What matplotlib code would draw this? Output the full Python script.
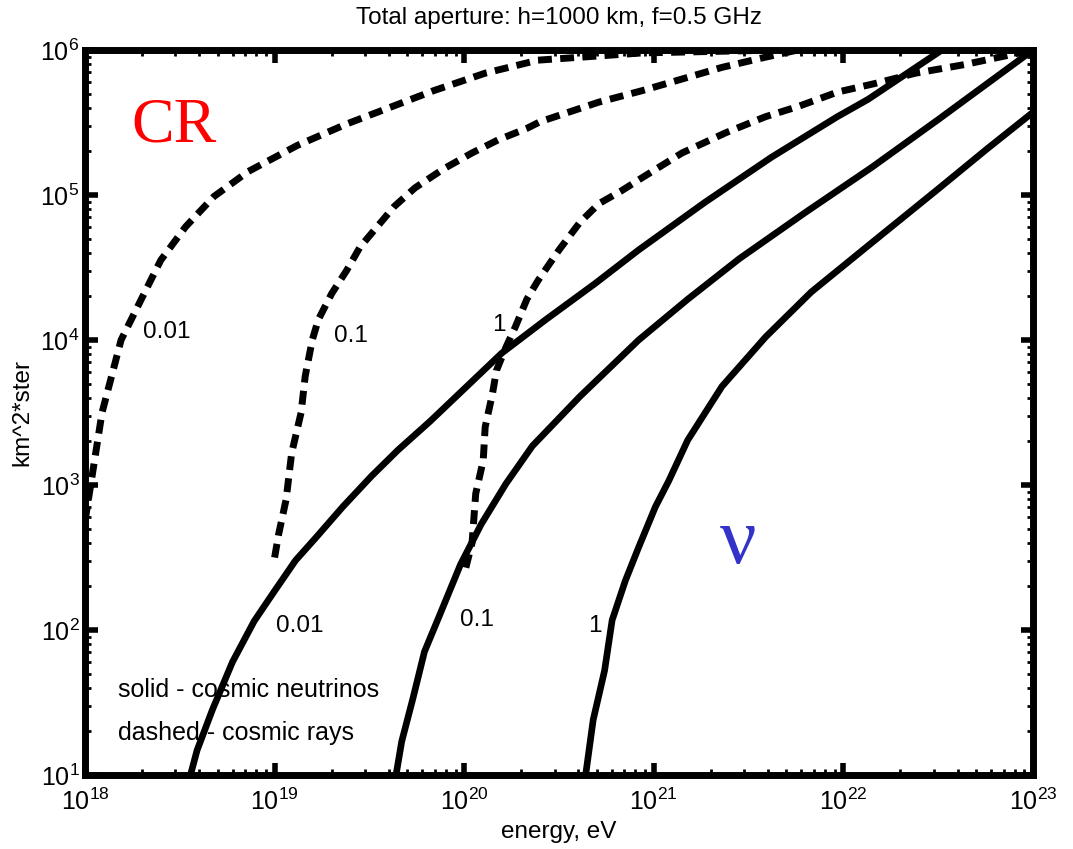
import matplotlib
matplotlib.use('Agg')
import matplotlib.pyplot as plt
import matplotlib as mpl
import numpy as np
from matplotlib.ticker import LogLocator

mpl.rcParams['font.family'] = 'Liberation Sans'
mpl.rcParams['mathtext.fontset'] = 'custom'
mpl.rcParams['mathtext.rm'] = 'Liberation Sans'
mpl.rcParams['mathtext.it'] = 'Liberation Sans:italic'

# ---- data (energy in eV, aperture in km^2*ster) ----
# cosmic neutrinos (solid), labels 0.01 / 0.1 / 1
nu_001_E = [3.6e18, 3.9e18, 4.7e18, 6.0e18, 7.8e18, 1.0e19, 1.29e19, 1.66e19, 2.29e19,
            3.24e19, 4.47e19, 6.61e19, 1.58e20, 2.69e20, 4.9e20, 8.3e20,
            1.86e21, 4.17e21, 9.3e21, 1.35e22, 3.31e22]
nu_001_A = [10, 14.8, 28.2, 60.3, 115, 186, 302, 437, 708, 1150, 1740, 2750,
            8130, 1.38e4, 2.45e4, 4.17e4, 8.9e4, 1.82e5, 3.47e5, 4.57e5, 1.0e6]

nu_01_E = [4.37e19, 4.68e19, 5.37e19, 6.17e19, 7.41e19, 9.55e19, 1.23e20, 1.66e20,
           2.29e20, 4.07e20, 8.32e20, 1.51e21, 2.82e21, 6.31e21, 1.41e22, 3.16e22, 1.0e23]
nu_01_A = [10, 17.0, 33.9, 70.8, 126, 282, 537, 1020, 1860, 4070, 1.0e4, 1.91e4,
           3.63e4, 7.59e4, 1.55e5, 3.31e5, 1.0e6]

nu_1_E = [4.37e20, 4.79e20, 5.5e20, 6.03e20, 7.08e20, 8.32e20, 1.02e21, 1.2e21,
          1.51e21, 2.29e21, 3.89e21, 6.76e21, 1.41e22, 3.16e22, 5.75e22, 1.0e23]
nu_1_A = [10, 24.0, 52.5, 117, 219, 372, 708, 1070, 2040, 4790, 1.05e4, 2.14e4,
          4.68e4, 1.1e5, 2.09e5, 3.72e5]

# cosmic rays (dashed), labels 0.01 / 0.1 / 1
cr_001_E = [1.0e18, 1.23e18, 1.55e18, 2.14e18, 2.51e18, 3.39e18, 4.79e18, 7.24e18,
            1.32e19, 2.4e19, 3.63e19, 6.92e19, 1.29e20, 2.45e20, 8.71e20, 4.68e21]
cr_001_A = [562, 3160, 1.0e4, 2.34e4, 3.55e4, 6.03e4, 9.77e4, 1.45e5, 2.2e5, 3.09e5,
            3.8e5, 5.25e5, 6.92e5, 8.51e5, 9.55e5, 1.0e6]

cr_01_E = [1.0e19, 1.05e19, 1.15e19, 1.23e19, 1.38e19, 1.45e19, 1.58e19, 1.7e19,
           2.0e19, 2.4e19, 2.82e19, 3.47e19, 4.27e19, 5.5e19, 7.76e19, 1.1e20,
           1.51e20, 2.14e20, 2.51e20, 5.13e20, 8.71e20, 1.41e21, 2.29e21, 3.72e21, 5.75e21]
cr_01_A = [316, 457, 794, 1660, 3160, 5620, 1.0e4, 1.38e4, 2.09e4, 3.02e4, 4.37e4,
           6.03e4, 8.32e4, 1.12e5, 1.51e5, 1.95e5, 2.4e5, 2.88e5, 3.2e5, 4.37e5,
           5.25e5, 6.31e5, 7.59e5, 8.81e5, 1.0e6]

cr_1_E = [1.02e20, 1.1e20, 1.15e20, 1.26e20, 1.29e20, 1.41e20, 1.48e20, 1.66e20,
          1.86e20, 2.14e20, 2.45e20, 3.16e20, 4.07e20, 5.13e20, 6.76e20, 8.71e20,
          1.41e21, 2.4e21, 3.89e21, 5.75e21, 9.33e21, 1.48e22, 2.4e22, 4.37e22, 1.0e23]
cr_1_A = [269, 398, 871, 1480, 2510, 4270, 6170, 8910, 1.23e4, 1.91e4, 2.57e4, 4.17e4,
          6.46e4, 8.71e4, 1.07e5, 1.32e5, 1.95e5, 2.69e5, 3.47e5, 4.07e5, 5.13e5,
          5.89e5, 6.92e5, 7.94e5, 1.0e6]

# curve labels: (text, energy, aperture)
cr_labels = [('0.01', 2.7e18, 1.14e4), ('0.1', 2.54e19, 1.07e4), ('1', 1.53e20, 1.26e4)]
nu_labels = [('0.01', 1.35e19, 107), ('0.1', 1.17e20, 117), ('1', 4.9e20, 107)]

# ---- figure ----
fig = plt.figure(figsize=(10.73, 8.49), dpi=100)
ax = fig.add_axes([85 / 1073, 1 - 775 / 849, 948 / 1073, 725 / 849])

# solid - neutrinos
for E, A in [(nu_001_E, nu_001_A), (nu_01_E, nu_01_A), (nu_1_E, nu_1_A)]:
    ax.plot(E, A, color='k', lw=4.8, solid_capstyle='butt', solid_joinstyle='round')

# dashed - cosmic rays
for E, A in [(cr_001_E, cr_001_A), (cr_01_E, cr_01_A), (cr_1_E, cr_1_A)]:
    ax.plot(E, A, color='k', lw=5, linestyle=(0, (2.0, 1.2)), dash_capstyle='butt')

ax.set_xscale('log')
ax.set_yscale('log')
ax.set_xlim(1e18, 1e23)
ax.set_ylim(10, 1e6)
ax.xaxis.set_major_locator(LogLocator(base=10, numticks=10))
ax.yaxis.set_major_locator(LogLocator(base=10, numticks=10))
ax.xaxis.set_minor_locator(LogLocator(base=10, subs=np.arange(2, 10), numticks=20))
ax.yaxis.set_minor_locator(LogLocator(base=10, subs=np.arange(2, 10), numticks=20))

ax.tick_params(which='both', direction='in', top=True, right=True)
ax.tick_params(which='major', length=9, width=4, labelsize=18)
ax.tick_params(axis='x', which='major', pad=10)
ax.tick_params(axis='y', which='major', pad=4)
ax.tick_params(which='minor', length=4, width=2)
for s in ax.spines.values():
    s.set_linewidth(5)

ax.set_title('Total aperture: h=1000 km, f=0.5 GHz', fontsize=17.5, pad=19)
ax.set_xlabel('energy, eV', fontsize=17.5, labelpad=4)
ax.set_ylabel('km^2*ster', fontsize=17.5, labelpad=5)

for txt, x, y in cr_labels + nu_labels:
    ax.text(x, y, txt, fontsize=17.5, ha='center', va='center')

ax.text(0.035, 0.117, 'solid - cosmic neutrinos', transform=ax.transAxes,
        fontsize=18, ha='left', va='center')
ax.text(0.035, 0.058, 'dashed - cosmic rays', transform=ax.transAxes,
        fontsize=18, ha='left', va='center')

ax.text(0.094, 0.894, 'CR', transform=ax.transAxes, color='red',
        family='Liberation Serif', fontsize=46, ha='center', va='center')
ax.text(0.689, 0.32, '\u03bd', transform=ax.transAxes, color='#3333cc',
        family='Liberation Serif', fontsize=58, ha='center', va='center')

fig.savefig('out.png', dpi=100)
